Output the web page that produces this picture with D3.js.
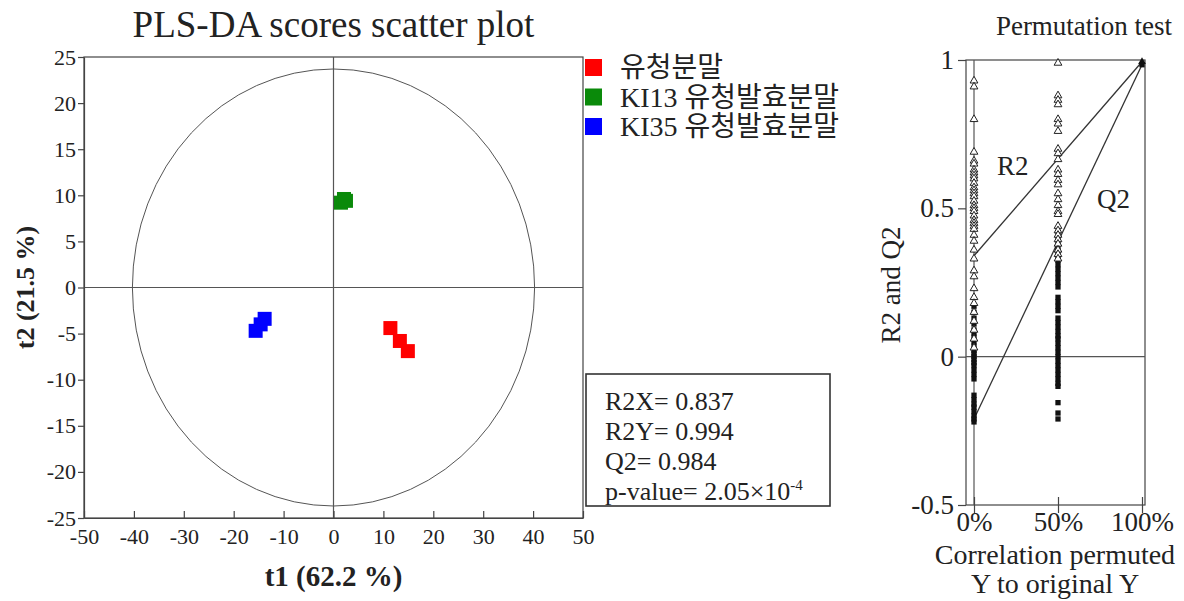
<!DOCTYPE html>
<html>
<head>
<meta charset="utf-8">
<script src="https://cdn.jsdelivr.net/npm/d3@7"></script>
<style>
  body { margin: 0; background: #fff; }
  svg text { font-family: "Liberation Serif", "Noto Sans CJK KR", serif; fill: #222; }
</style>
</head>
<body>
<svg id="chart" width="1184" height="601"></svg>
<script>
"use strict";

// ---- scores plot data ----
var groups = ['유청분말', 'KI13 유청발효분말', 'KI35 유청발효분말'];
var groupColors = ['#ff0000', '#0a8a0a', '#0000ff'];
var t1Values = [11.4, 13.3, 14.9, 1.5, 2.1, 2.5, -13.8, -14.6, -15.6];
var t2Values = [-4.4, -5.8, -6.9, 9.2, 9.6, 9.4, -3.4, -4.0, -4.7];
var pointGroup = [0, 0, 0, 1, 1, 1, 2, 2, 2];
var scoreTicksX = [-50, -40, -30, -20, -10, 0, 10, 20, 30, 40, 50];
var scoreTicksY = [25, 20, 15, 10, 5, 0, -5, -10, -15, -20, -25];
var ellipseRadius = [40.3, 23.7];
var statLines = ['R2X= 0.837', 'R2Y= 0.994', 'Q2= 0.984'];

// ---- permutation test data ----
var r2AtZero = [0.93, 0.91, 0.80, 0.69, 0.66, 0.65, 0.63, 0.62, 0.61, 0.60, 0.585, 0.57, 0.56, 0.55, 0.54,
                0.525, 0.51, 0.50, 0.49, 0.475, 0.46, 0.45, 0.44, 0.43, 0.41, 0.39, 0.36, 0.33, 0.29, 0.27,
                0.23, 0.20, 0.18, 0.15, 0.12, 0.09, 0.06, 0.03];
var q2AtZero = [0.17, 0.15, 0.13, 0.11, 0.09, 0.08, 0.065, 0.05, 0.035, 0.02, 0.01, 0.0, -0.01, -0.02,
                -0.03, -0.045, -0.06, -0.075, -0.13, -0.145, -0.16, -0.17, -0.185, -0.2, -0.21, -0.22];
var r2AtHalf = [0.99, 0.88, 0.865, 0.85, 0.80, 0.785, 0.76, 0.70, 0.685, 0.665, 0.63, 0.615, 0.595, 0.58,
                0.55, 0.53, 0.51, 0.49, 0.48, 0.44, 0.425, 0.41, 0.395, 0.38, 0.36, 0.345, 0.33];
var q2AtHalf = [0.42, 0.40, 0.385, 0.37, 0.355, 0.34, 0.325, 0.31, 0.295, 0.28, 0.265, 0.25, 0.235,
                0.20, 0.185, 0.17, 0.155, 0.13, 0.115, 0.10, 0.085, 0.07, 0.06, 0.045, 0.03, 0.015,
                0.0, -0.015, -0.03, -0.045, -0.06, -0.075, -0.09, -0.10, -0.155, -0.19, -0.21];
var permCorr = [0, 0.5];
var originalR2 = 0.994, originalQ2 = 0.984;
var r2Intercept = 0.34, q2Intercept = -0.21;
var permTicksY = [1, 0.5, 0, -0.5];
var permTicksX = [0, 0.5, 1];

var svg = d3.select('#chart');
var plain = function(d) { return String(d); };   // keep ascii hyphen like the original

// ================= left: PLS-DA scores =================
var x = d3.scaleLinear().domain([-50, 50]).range([84, 583]);
var y = d3.scaleLinear().domain([-25, 25]).range([518, 57]);

var left = svg.append('g');

// frame and zero lines
left.append('rect')
    .attr('x', x(-50)).attr('y', y(25))
    .attr('width', x(50) - x(-50)).attr('height', y(-25) - y(25))
    .attr('fill', 'none').attr('stroke', '#444').attr('stroke-width', 1.2);
left.append('line')
    .attr('x1', x(0)).attr('x2', x(0)).attr('y1', y(25)).attr('y2', y(-25))
    .attr('stroke', '#555').attr('stroke-width', 1.2);
left.append('line')
    .attr('x1', x(-50)).attr('x2', x(50)).attr('y1', y(0)).attr('y2', y(0))
    .attr('stroke', '#555').attr('stroke-width', 1.2);

// Hotelling ellipse
left.append('ellipse')
    .attr('cx', x(0)).attr('cy', y(0))
    .attr('rx', x(ellipseRadius[0]) - x(0))
    .attr('ry', y(0) - y(ellipseRadius[1]))
    .attr('fill', 'none').attr('stroke', '#555').attr('stroke-width', 1);

// axes
var xAxis = d3.axisBottom(x).tickValues(scoreTicksX).tickFormat(plain)
    .tickSizeInner(-7).tickSizeOuter(0).tickPadding(10);
var yAxis = d3.axisLeft(y).tickValues(scoreTicksY).tickFormat(plain)
    .tickSizeInner(6).tickSizeOuter(0).tickPadding(2);

var gx = left.append('g').attr('transform', 'translate(0,' + y(-25) + ')').call(xAxis);
var gy = left.append('g').attr('transform', 'translate(' + x(-50) + ',0)').call(yAxis);
[gx, gy].forEach(function(g) {
    g.selectAll('path,line').attr('stroke', '#444').attr('stroke-width', 1.2);
    g.selectAll('text').attr('font-family', 'Liberation Serif').attr('font-size', 22).attr('fill', '#222');
});

// points
var sq = 14;
left.selectAll('rect.pt')
    .data(t1Values)
    .enter()
    .append('rect')
    .attr('class', 'pt')
    .attr('x', function(d) { return x(d) - sq / 2; })
    .attr('y', function(d, i) { return y(t2Values[i]) - sq / 2; })
    .attr('width', sq).attr('height', sq)
    .attr('fill', function(d, i) { return groupColors[pointGroup[i]]; });

// title and axis labels
left.append('text').attr('x', x(0)).attr('y', 37).attr('text-anchor', 'middle')
    .attr('font-size', 37).text('PLS-DA scores scatter plot');
left.append('text').attr('x', x(0)).attr('y', 586).attr('text-anchor', 'middle')
    .attr('font-size', 29).attr('font-weight', 'bold').text('t1 (62.2 %)');
left.append('text').attr('transform', 'translate(34,' + y(0) + ') rotate(-90)')
    .attr('text-anchor', 'middle').attr('font-size', 26).attr('font-weight', 'bold')
    .text('t2 (21.5 %)');

// legend
var legend = left.append('g').attr('transform', 'translate(585,0)');
var rows = legend.selectAll('g').data(groups).enter().append('g')
    .attr('transform', function(d, i) { return 'translate(0,' + (67 + i * 29.5) + ')'; });
rows.append('rect').attr('x', 0).attr('y', -8).attr('width', 17).attr('height', 17)
    .attr('fill', function(d, i) { return groupColors[i]; });
rows.append('text').attr('x', 35).attr('y', 10).attr('font-size', 28).text(function(d) { return d; });

// stats box
var stats = left.append('g');
stats.append('rect').attr('x', 586).attr('y', 374).attr('width', 244).attr('height', 132)
    .attr('fill', '#fff').attr('stroke', '#333').attr('stroke-width', 1.6);
stats.selectAll('text.st').data(statLines).enter().append('text')
    .attr('class', 'st')
    .attr('x', 605).attr('y', function(d, i) { return 410 + i * 30; })
    .attr('font-size', 26).text(function(d) { return d; });
var pv = stats.append('text').attr('x', 605).attr('y', 500).attr('font-size', 26);
pv.append('tspan').text('p-value= 2.05×10');
pv.append('tspan').attr('dy', -10).attr('font-size', 15).text('-4');

// ================= right: permutation test =================
var px = d3.scaleLinear().domain([0, 1]).range([974, 1142]);
var py = d3.scaleLinear().domain([-0.5, 1]).range([505, 60]);
var pLeft = 966, pRight = 1145;

var right = svg.append('g');

right.append('rect')
    .attr('x', pLeft).attr('y', py(1))
    .attr('width', pRight - pLeft).attr('height', py(-0.5) - py(1))
    .attr('fill', 'none').attr('stroke', '#444').attr('stroke-width', 1.2);
right.append('line')
    .attr('x1', px(0)).attr('x2', px(0)).attr('y1', py(1)).attr('y2', py(-0.5))
    .attr('stroke', '#555').attr('stroke-width', 1.2);
right.append('line')
    .attr('x1', pLeft).attr('x2', pRight).attr('y1', py(0)).attr('y2', py(0))
    .attr('stroke', '#555').attr('stroke-width', 1.2);

var pyAxis = d3.axisLeft(py).tickValues(permTicksY).tickFormat(plain)
    .tickSizeInner(8).tickSizeOuter(0).tickPadding(4);
var pxAxis = d3.axisBottom(px).tickValues(permTicksX).tickFormat(function(d) { return (d * 100) + '%'; })
    .tickSizeInner(7).tickSizeOuter(0).tickPadding(0);

var pgy = right.append('g').attr('transform', 'translate(' + pLeft + ',0)').call(pyAxis);
var pgx = right.append('g').attr('transform', 'translate(0,' + py(-0.5) + ')').call(pxAxis);
pgy.select('.domain').remove();
pgx.select('.domain').remove();
pgx.selectAll('.tick line').attr('y1', -8).attr('y2', 8);
[pgx, pgy].forEach(function(g) {
    g.selectAll('line').attr('stroke', '#444').attr('stroke-width', 1.2);
    g.selectAll('text').attr('font-family', 'Liberation Serif').attr('font-size', 27).attr('fill', '#222');
});
pgx.selectAll('text').attr('dy', '0.7em');

// regression lines
right.append('line')
    .attr('x1', px(0)).attr('y1', py(r2Intercept)).attr('x2', px(1)).attr('y2', py(originalR2))
    .attr('stroke', '#333').attr('stroke-width', 1.3);
right.append('line')
    .attr('x1', px(0)).attr('y1', py(q2Intercept)).attr('x2', px(1)).attr('y2', py(originalQ2))
    .attr('stroke', '#333').attr('stroke-width', 1.3);

// permuted points
var tri = d3.symbol().type(d3.symbolTriangle).size(26);
var box = d3.symbol().type(d3.symbolSquare).size(28);

var r2Points = r2AtZero.map(function(v) { return [permCorr[0], v]; })
    .concat(r2AtHalf.map(function(v) { return [permCorr[1], v]; }));
var q2Points = q2AtZero.map(function(v) { return [permCorr[0], v]; })
    .concat(q2AtHalf.map(function(v) { return [permCorr[1], v]; }));

right.selectAll('path.q2').data(q2Points).enter().append('path')
    .attr('class', 'q2')
    .attr('d', box)
    .attr('transform', function(d) { return 'translate(' + px(d[0]) + ',' + py(d[1]) + ')'; })
    .attr('fill', '#111');
right.selectAll('path.r2').data(r2Points).enter().append('path')
    .attr('class', 'r2')
    .attr('d', tri)
    .attr('transform', function(d) { return 'translate(' + px(d[0]) + ',' + py(d[1]) + ')'; })
    .attr('fill', '#fff').attr('stroke', '#222').attr('stroke-width', 1);

right.append('path').attr('d', box)
    .attr('transform', 'translate(' + px(1) + ',' + py(originalQ2) + ')').attr('fill', '#111');
right.append('path').attr('d', tri)
    .attr('transform', 'translate(' + px(1) + ',' + py(originalR2) + ')').attr('fill', '#111');

// labels
right.append('text').attr('x', 997).attr('y', 175).attr('font-size', 27).text('R2');
right.append('text').attr('x', 1097).attr('y', 208).attr('font-size', 27).text('Q2');
right.append('text').attr('x', 1084).attr('y', 35).attr('text-anchor', 'middle')
    .attr('font-size', 27).text('Permutation test');
right.append('text').attr('transform', 'translate(900,285) rotate(-90)')
    .attr('text-anchor', 'middle').attr('font-size', 27).text('R2 and Q2');
right.append('text').attr('x', 1055).attr('y', 564).attr('text-anchor', 'middle')
    .attr('font-size', 28).text('Correlation permuted');
right.append('text').attr('x', 1055).attr('y', 593).attr('text-anchor', 'middle')
    .attr('font-size', 28).text('Y to original Y');
</script>
</body>
</html>
